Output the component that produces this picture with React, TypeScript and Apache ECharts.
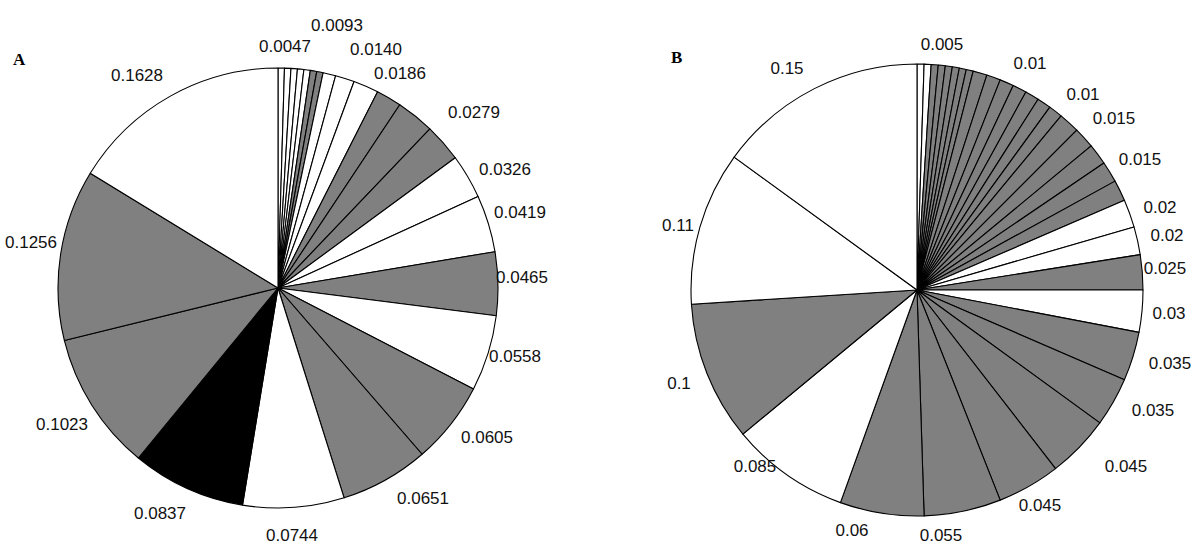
import React, { useEffect, useRef } from "react";
import * as echarts from "echarts";

// ---- Data: Pie A (clockwise from 12 o'clock) ----
const valuesA = [
  0.0047, 0.0047, 0.0047, 0.0047, 0.0047, 0.0047, 0.0047, 0.0093, 0.014, 0.0186,
  0.0186, 0.0279, 0.0279, 0.0326, 0.0419, 0.0465, 0.0558, 0.0605, 0.0651, 0.0744,
  0.0837, 0.1023, 0.1256, 0.1628,
];
const shadeA = [
  "W", "W", "W", "W", "W", "G", "G", "W", "W", "W",
  "G", "G", "G", "W", "W", "G", "W", "G", "G", "W",
  "B", "G", "G", "W",
];
const labelsA = [
  "0.0047", "", "", "", "", "", "", "0.0093", "0.0140", "",
  "0.0186", "0.0279", "", "0.0326", "0.0419", "0.0465", "0.0558", "0.0605", "0.0651", "0.0744",
  "0.0837", "0.1023", "0.1256", "0.1628",
];

// ---- Data: Pie B (clockwise from 12 o'clock) ----
const valuesB = [
  0.005, 0.005, 0.005, 0.005, 0.005, 0.005, 0.005, 0.005,
  0.01, 0.01, 0.01, 0.01, 0.01, 0.01, 0.01,
  0.015, 0.015, 0.015, 0.015, 0.015,
  0.02, 0.02, 0.025, 0.03, 0.035, 0.035, 0.045, 0.045, 0.055, 0.06, 0.085, 0.1, 0.11, 0.15,
];
const shadeB = [
  "W", "W", "G", "G", "G", "G", "G", "G",
  "G", "G", "G", "G", "G", "G", "G",
  "G", "G", "G", "G", "G",
  "W", "W", "G", "W", "G", "G", "G", "G", "G", "G", "W", "G", "W", "W",
];
const labelsB = [
  "0.005", "", "", "", "", "", "", "",
  "", "", "", "0.01", "", "", "0.01",
  "", "0.015", "", "0.015", "",
  "0.02", "0.02", "0.025", "0.03", "0.035", "0.035", "0.045", "0.045", "0.055", "0.06", "0.085", "0.1", "0.11", "0.15",
];

const SHADE_COLORS: Record<string, string> = { W: "#ffffff", G: "#808080", B: "#000000" };

// label text centres (pixels)
const labelPosA: Record<number, [number, number]> = {
  0: [285, 46], 7: [337, 25], 8: [376, 49], 10: [400, 73], 11: [474, 112],
  13: [505, 169], 14: [520, 212], 15: [522, 277], 16: [515, 356], 17: [487, 437],
  18: [423, 498], 19: [292, 535], 20: [160, 513], 21: [62, 424], 22: [31, 242], 23: [137, 75],
};
const labelPosB: Record<number, [number, number]> = {
  0: [942, 44], 11: [1030, 63], 14: [1083, 94], 16: [1114, 118], 18: [1140, 159],
  20: [1160, 207], 21: [1167, 235], 22: [1165, 268], 23: [1169, 313], 24: [1170, 363],
  25: [1153, 410], 26: [1126, 466], 27: [1040, 505], 28: [941, 535], 29: [852, 530],
  30: [755, 466], 31: [679, 383], 32: [678, 225], 33: [787, 68],
};

function buildData(values: number[], shades: string[], labels: string[]) {
  return values.map((v, i) => ({
    value: v,
    name: labels[i] || String(i),
    itemStyle: { color: SHADE_COLORS[shades[i]] },
    label: labels[i] ? { show: true, formatter: labels[i] } : { show: false },
  }));
}

function pieSeries(
  values: number[], shades: string[], labels: string[],
  center: [number, number], radius: number, pos: Record<number, [number, number]>
) {
  return {
    type: "pie",
    center,
    radius,
    startAngle: 90,
    clockwise: true,
    silent: true,
    avoidLabelOverlap: false,
    itemStyle: { borderColor: "#000", borderWidth: 1.1 },
    label: {
      show: true,
      position: "outside",
      fontSize: 17,
      color: "#111",
      fontFamily: "Liberation Sans, Arial, sans-serif",
    },
    labelLine: { show: false },
    labelLayout: (params: any) => {
      const p = pos[params.dataIndex];
      if (!p) return {};
      return { x: p[0], y: p[1], align: "center", verticalAlign: "middle" };
    },
    emphasis: { disabled: true },
    data: buildData(values, shades, labels),
  };
}

export default function App() {
  const ref = useRef<HTMLDivElement>(null);
  useEffect(() => {
    document.body.style.margin = "0";
    if (!ref.current) return;
    const chart = echarts.init(ref.current, undefined, { renderer: "svg" });
    chart.setOption({
      animation: false,
      backgroundColor: "#ffffff",
      tooltip: { show: false },
      graphic: [
        {
          type: "text", left: 13, top: 51,
          style: { text: "A", font: "bold 17px 'Liberation Serif', 'Times New Roman', serif", fill: "#000" },
        },
        {
          type: "text", left: 671, top: 49,
          style: { text: "B", font: "bold 17px 'Liberation Serif', 'Times New Roman', serif", fill: "#000" },
        },
      ],
      series: [
        pieSeries(valuesA, shadeA, labelsA, [278, 288], 220, labelPosA),
        pieSeries(valuesB, shadeB, labelsB, [917, 290], 226, labelPosB),
      ],
    });
    return () => chart.dispose();
  }, []);
  return (
    <div ref={ref} style={{ width: 1200, height: 555, background: "#fff" }} />
  );
}
